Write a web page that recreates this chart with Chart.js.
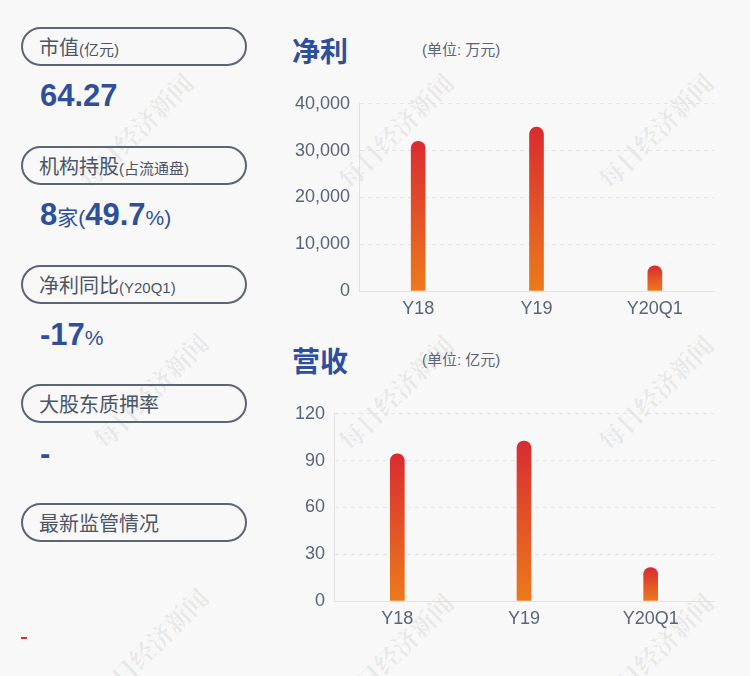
<!DOCTYPE html>
<html>
<head>
<meta charset="utf-8">
<script src="https://cdn.jsdelivr.net/npm/chart.js@4/dist/chart.umd.min.js"></script>
<style>
  html, body { margin: 0; padding: 0; }
  body {
    width: 750px; height: 676px; position: relative; overflow: hidden;
    background: #f8f8f8;
    font-family: "Liberation Sans", "Noto Sans CJK SC", sans-serif;
  }
  .pill {
    position: absolute; left: 21px; width: 222px; height: 35px;
    border: 2px solid #5b6576; border-radius: 20px;
    box-sizing: content-box;
    color: #4b5566; font-size: 20px; line-height: 35px;
    font-family: "Noto Sans CJK SC", sans-serif;
  }
  .pill span.in { position: absolute; left: 16px; top: 0; white-space: nowrap; }
  .pill small { font-size: 15px; font-family: "Liberation Sans", "Noto Sans CJK SC", sans-serif; }
  .val {
    position: absolute; left: 40px; color: #2f4f9a; font-weight: bold;
    font-size: 31px; line-height: 36px; white-space: nowrap;
  }
  .val .s { font-weight: normal; font-size: 21px; }
  .title {
    position: absolute; left: 292px; color: #2d4f9c; font-weight: bold;
    font-size: 28px; font-family: "Noto Sans CJK SC", sans-serif; line-height: 30px;
  }
  .unit {
    position: absolute; left: 422px; color: #5c6577; font-size: 15px; line-height: 20px;
    font-family: "Liberation Sans", "Noto Sans CJK SC", sans-serif;
  }
  .wm {
    position: absolute; width: 170px; text-align: center; margin-left: -85px; margin-top: -16px;
    transform: rotate(-45deg); color: rgba(0,0,0,0.075); font-size: 25px; font-weight: bold;
    font-family: "Noto Serif CJK SC", "Noto Sans CJK SC", serif; white-space: nowrap; line-height: 32px;
  }
  canvas { position: absolute; }
</style>
</head>
<body>

<div class="wm" style="left:135px;top:130px">每日经济新闻</div>
<div class="wm" style="left:395px;top:130px">每日经济新闻</div>
<div class="wm" style="left:655px;top:130px">每日经济新闻</div>
<div class="wm" style="left:150px;top:390px">每日经济新闻</div>
<div class="wm" style="left:395px;top:392px">每日经济新闻</div>
<div class="wm" style="left:655px;top:392px">每日经济新闻</div>
<div class="wm" style="left:150px;top:645px">每日经济新闻</div>
<div class="wm" style="left:395px;top:650px">每日经济新闻</div>
<div class="wm" style="left:655px;top:650px">每日经济新闻</div>

<div class="pill" style="top:27px"><span class="in">市值<small>(亿元)</small></span></div>
<div class="val" style="top:78px">64.27</div>

<div class="pill" style="top:146px"><span class="in">机构持股<small>(占流通盘)</small></span></div>
<div class="val" style="top:197px">8<span class="s">家(</span>49.7<span class="s">%)</span></div>

<div class="pill" style="top:265px"><span class="in">净利同比<small>(Y20Q1)</small></span></div>
<div class="val" style="top:317px">-17<span class="s">%</span></div>

<div class="pill" style="top:384px"><span class="in">大股东质押率</span></div>
<div class="val" style="top:436px">-</div>

<div class="pill" style="top:503px"><span class="in">最新监管情况</span></div>
<div style="position:absolute;left:21px;top:637px;width:6px;height:2px;background:#d9302f"></div>

<div class="title" style="top:35px">净利</div>
<div class="unit" style="top:40px">(单位: 万元)</div>
<div class="title" style="top:345px">营收</div>
<div class="unit" style="top:350px">(单位: 亿元)</div>

<canvas id="profitChart" width="450" height="236" style="left:280px;top:84px"></canvas>
<canvas id="revenueChart" width="450" height="236" style="left:280px;top:394px"></canvas>

<script>
// categories and values
const periods = ["Y18", "Y19", "Y20Q1"];
const netProfit = [32000, 35000, 5400];     // 万元
const revenue = [94.3, 102.5, 21.4];        // 亿元
const profitTicks = [0, 10000, 20000, 30000, 40000];
const revenueTicks = [0, 30, 60, 90, 120];

// red at the top of each bar, orange at its foot
function barColour(c) {
    const chart = c.chart;
    const y = chart.scales && chart.scales.y;
    if (!chart.chartArea || !y || c.raw == null) return "#e0452b";
    const top = y.getPixelForValue(c.raw);
    const base = y.getPixelForValue(0);
    if (!isFinite(top) || !isFinite(base) || top === base) return "#e0452b";
    const g = chart.ctx.createLinearGradient(0, base, 0, top);
    g.addColorStop(0, "#ec7a1c");
    g.addColorStop(1, "#d92c30");
    return g;
}

function drawBarChart(id, values, ticks, yWidth) {
    const ctx = document.getElementById(id).getContext("2d");
    new Chart(ctx, {
        type: "bar",
        data: {
            labels: periods,
            datasets: [{
                data: values,
                backgroundColor: barColour,
                barThickness: 14,
                borderRadius: { topLeft: 7, topRight: 7, bottomLeft: 0, bottomRight: 0 },
                borderSkipped: false
            }]
        },
        options: {
            responsive: false,
            animation: false,
            layout: { padding: { top: 8, right: 16, left: 0, bottom: 0 } },
            plugins: { legend: { display: false }, tooltip: { enabled: false } },
            scales: {
                x: {
                    grid: { display: false, drawTicks: false },
                    border: { display: true, color: "#e2e2e2", width: 1 },
                    ticks: { color: "#5a6478", font: { size: 18, family: "Liberation Sans" }, padding: 7 },
                    afterFit: function (s) { s.height = 29; }
                },
                y: {
                    min: ticks[0],
                    max: ticks[ticks.length - 1],
                    afterBuildTicks: function (s) { s.ticks = ticks.map(v => ({ value: v })); },
                    grid: {
                        drawTicks: false,
                        color: function (c) { return c.tick && c.tick.value === 0 ? "rgba(0,0,0,0)" : "#e4e4e4"; },
                        lineWidth: 1
                    },
                    border: { display: true, color: "#e2e2e2", width: 1, dash: [4, 4] },
                    ticks: {
                        color: "#5a6478",
                        font: { size: 18, family: "Liberation Sans" },
                        padding: 9,
                        callback: function (v) { return v.toLocaleString("en-US"); }
                    },
                    afterFit: function (s) { s.width = yWidth; }
                }
            }
        }
    });
}

drawBarChart("profitChart", netProfit, profitTicks, 79);
drawBarChart("revenueChart", revenue, revenueTicks, 54);
</script>
</body>
</html>
